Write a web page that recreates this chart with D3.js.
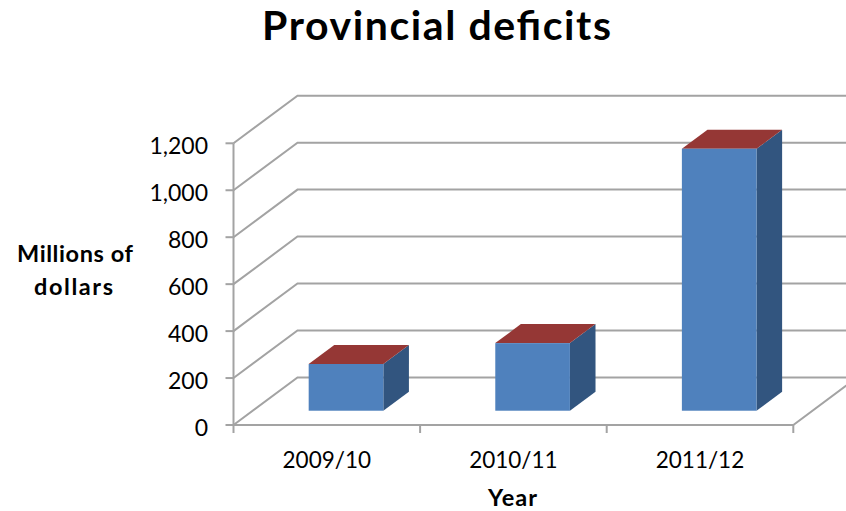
<!DOCTYPE html>
<html>
<head>
<meta charset="utf-8">
<script src="https://cdn.jsdelivr.net/npm/d3@7"></script>
<style>
  html, body { margin: 0; padding: 0; background: #fff; }
  svg { display: block; font-family: Lato, "Open Sans", sans-serif; }
</style>
</head>
<body>
<svg id="chart" width="846" height="511"></svg>
<script>
// Provincial deficits, millions of dollars
const categories = ["2009/10", "2010/11", "2011/12"];
const deficits = [199, 288, 1116];
const yTicks = [0, 200, 400, 600, 800, 1000, 1200];

const svg = d3.select("#chart");

// Front plane of the 3D plot box
const x0 = 233.5, x1 = 793.3;
const yBottom = 425, yTop = 143.3;
// Oblique depth offset from front plane to back wall
const depthDx = 64, depthDy = -47.6;
// Bars occupy the middle 40% of the depth
const zFront = 0.3, zBack = 0.7;

const x = d3.scaleBand().domain(categories).range([x0, x1])
  .paddingInner(0.6).paddingOuter(0.3);
const y = d3.scaleLinear().domain([0, 1200]).range([yBottom, yTop]);

const gridColor = "#a3a3a3";
const grid = svg.append("g").attr("fill", "none").attr("stroke", gridColor).attr("stroke-width", 2);

// Back wall gridlines and side wall diagonals
const backRight = x1 + depthDx;
yTicks.forEach(v => {
  const yy = y(v);
  grid.append("path")
    .attr("d", d3.line()([[x0, yy], [x0 + depthDx, yy + depthDy], [backRight, yy + depthDy]]));
});
// Floor: front edge and right edge
grid.append("path")
  .attr("d", d3.line()([[x0, yBottom], [x1, yBottom], [backRight, yBottom + depthDy]]));
// Vertical value axis on the front plane
grid.append("path").attr("d", d3.line()([[x0, yBottom], [x0, yTop]]));

// Value axis ticks and labels
const yAxisG = svg.append("g");
yTicks.forEach(v => {
  yAxisG.append("line")
    .attr("x1", x0 - 8).attr("x2", x0).attr("y1", y(v)).attr("y2", y(v))
    .attr("stroke", gridColor).attr("stroke-width", 2);
  yAxisG.append("text")
    .attr("x", 208).attr("y", y(v) + 1.5)
    .attr("text-anchor", "end").attr("dominant-baseline", "central")
    .attr("font-size", 23).attr("fill", "#000")
    .text(d3.format(",")(v));
});

// Category axis ticks at band boundaries
const step = x.step();
const boundaries = d3.range(categories.length + 1).map(i => x0 + i * step);
boundaries.forEach(bx => {
  svg.append("line")
    .attr("x1", bx).attr("x2", bx).attr("y1", yBottom).attr("y2", yBottom + 8)
    .attr("stroke", gridColor).attr("stroke-width", 2);
});
categories.forEach((c, i) => {
  svg.append("text")
    .attr("x", x0 + (i + 0.5) * step)
    .attr("y", 468)
    .attr("text-anchor", "middle").attr("font-size", 22.5).attr("fill", "#000")
    .text(c);
});

// 3D columns
const bars = svg.append("g");
categories.forEach((c, i) => {
  const v = deficits[i];
  const bx = x(c), bw = x.bandwidth();
  const fx = bx + zFront * depthDx, fy = zFront * depthDy;
  const ddx = (zBack - zFront) * depthDx, ddy = (zBack - zFront) * depthDy;
  const top = y(v) + fy, bottom = y(0) + fy;
  // right side
  bars.append("path")
    .attr("d", d3.line()([[fx + bw, top], [fx + bw + ddx, top + ddy], [fx + bw + ddx, bottom + ddy], [fx + bw, bottom]]) + "Z")
    .attr("fill", "#32557f");
  // top
  bars.append("path")
    .attr("d", d3.line()([[fx, top], [fx + ddx, top + ddy], [fx + bw + ddx, top + ddy], [fx + bw, top]]) + "Z")
    .attr("fill", "#953735");
  // front
  bars.append("rect")
    .attr("x", fx).attr("y", top).attr("width", bw).attr("height", bottom - top)
    .attr("fill", "#4f81bd");
});

// Titles
svg.append("text")
  .attr("x", 262).attr("y", 40)
  .attr("font-size", 41).attr("font-weight", "bold").attr("fill", "#000")
  .attr("textLength", 349).attr("lengthAdjust", "spacing")
  .text("Provincial deficits");

const yTitleLines = [["Millions of", 17, 262, 116], ["dollars", 34, 295, 79]];
yTitleLines.forEach(([t, lx, ly, w]) => {
  svg.append("text")
    .attr("x", lx).attr("y", ly)
    .attr("font-size", 23.5).attr("font-weight", "bold").attr("fill", "#000")
    .attr("textLength", w).attr("lengthAdjust", "spacing")
    .text(t);
});

svg.append("text")
  .attr("x", 488).attr("y", 506)
  .attr("font-size", 23.5).attr("font-weight", "bold").attr("fill", "#000")
  .attr("textLength", 49).attr("lengthAdjust", "spacing")
  .text("Year");
</script>
</body>
</html>
